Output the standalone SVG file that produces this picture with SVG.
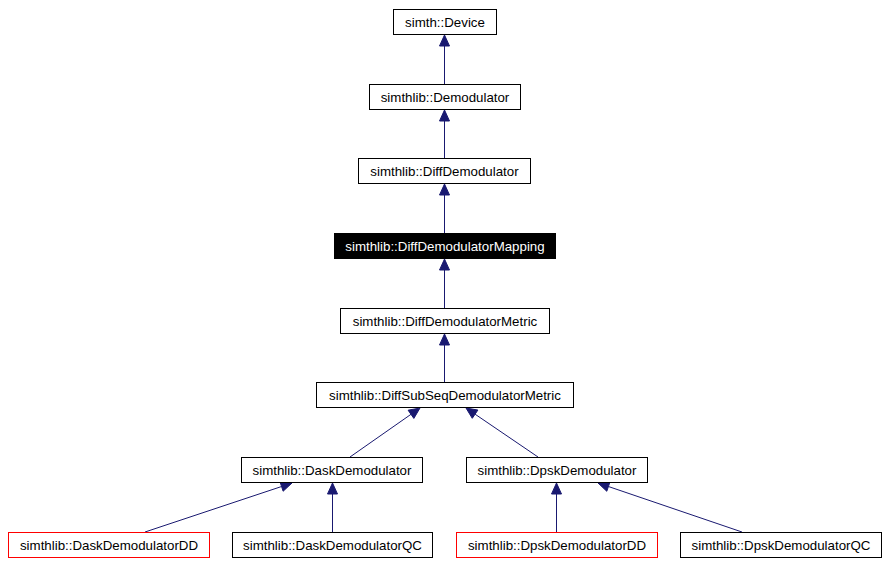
<svg xmlns="http://www.w3.org/2000/svg" width="887" height="564" viewBox="0 0 887 564">
<style>
  .box { fill: #ffffff; stroke: #000000; stroke-width: 1; }
  .red { fill: #ffffff; stroke: #ff0000; stroke-width: 1; }
  .sel { fill: #000000; stroke: #000000; stroke-width: 1; }
  text { font-family: "Liberation Sans", Arial, sans-serif; font-size: 13.3px; text-anchor: middle; fill: #000000; }
  .selt { fill: #ffffff; }
  .edge { stroke: #191970; stroke-width: 1; fill: none; }
  .head { fill: #191970; stroke: #191970; stroke-width: 1; }
</style>
<rect width="887" height="564" fill="#ffffff"/>
<g id="connectors">
  <line class="edge" x1="444.5" y1="84" x2="444.5" y2="46"/>
  <polygon class="head" points="444.5,35 449.5,46 439.5,46"/>
  <line class="edge" x1="444.5" y1="158" x2="444.5" y2="121"/>
  <polygon class="head" points="444.5,110 449.5,121 439.5,121"/>
  <line class="edge" x1="444.5" y1="233" x2="444.5" y2="195"/>
  <polygon class="head" points="444.5,184 449.5,195 439.5,195"/>
  <line class="edge" x1="444.5" y1="308" x2="444.5" y2="270"/>
  <polygon class="head" points="444.5,259 449.5,270 439.5,270"/>
  <line class="edge" x1="444.5" y1="382" x2="444.5" y2="345"/>
  <polygon class="head" points="444.5,334 449.5,345 439.5,345"/>
  <line class="edge" x1="350" y1="457" x2="411" y2="414.3"/>
  <polygon class="head" points="420,408 413.85,418.41 408.11,410.21"/>
  <line class="edge" x1="538" y1="457" x2="475.1" y2="414.2"/>
  <polygon class="head" points="466,408 477.9,410.06 472.28,418.32"/>
  <line class="edge" x1="145" y1="532" x2="281.6" y2="486.5"/>
  <polygon class="head" points="292,483 283.14,491.22 279.98,481.74"/>
  <line class="edge" x1="332.5" y1="532" x2="332.5" y2="494"/>
  <polygon class="head" points="332.5,483 337.5,494 327.5,494"/>
  <line class="edge" x1="556.5" y1="532" x2="556.5" y2="494"/>
  <polygon class="head" points="556.5,483 561.5,494 551.5,494"/>
  <line class="edge" x1="742" y1="532" x2="608.4" y2="486.5"/>
  <polygon class="head" points="598,483 610.02,481.81 606.8,491.27"/>
</g>
<g id="node-device">
  <rect class="box" x="393.5" y="9.5" width="103" height="25"/>
  <text x="445" y="26.5">simth::Device</text>
</g>
<g id="node-demodulator">
  <rect class="box" x="369.5" y="84.5" width="151" height="25"/>
  <text x="445" y="101.5">simthlib::Demodulator</text>
</g>
<g id="node-diffdemodulator">
  <rect class="box" x="358.5" y="158.5" width="172" height="25"/>
  <text x="444.5" y="175.5">simthlib::DiffDemodulator</text>
</g>
<g id="node-diffdemodulatormapping">
  <rect class="sel" x="334.5" y="233.5" width="221" height="25"/>
  <text class="selt" x="445" y="250.5">simthlib::DiffDemodulatorMapping</text>
</g>
<g id="node-diffdemodulatormetric">
  <rect class="box" x="340.5" y="308.5" width="209" height="25"/>
  <text x="445" y="325.5">simthlib::DiffDemodulatorMetric</text>
</g>
<g id="node-diffsubseqdemodulatormetric">
  <rect class="box" x="316.5" y="382.5" width="257" height="25"/>
  <text x="445" y="399.5">simthlib::DiffSubSeqDemodulatorMetric</text>
</g>
<g id="node-daskdemodulator">
  <rect class="box" x="241.5" y="457.5" width="181" height="25"/>
  <text x="332" y="474.5">simthlib::DaskDemodulator</text>
</g>
<g id="node-dpskdemodulator">
  <rect class="box" x="466.5" y="457.5" width="181" height="25"/>
  <text x="557" y="474.5">simthlib::DpskDemodulator</text>
</g>
<g id="node-daskdemodulatordd">
  <rect class="red" x="8.5" y="532.5" width="201" height="25"/>
  <text x="109" y="549.5">simthlib::DaskDemodulatorDD</text>
</g>
<g id="node-daskdemodulatorqc">
  <rect class="box" x="232.5" y="532.5" width="200" height="25"/>
  <text x="332.5" y="549.5">simthlib::DaskDemodulatorQC</text>
</g>
<g id="node-dpskdemodulatordd">
  <rect class="red" x="456.5" y="532.5" width="201" height="25"/>
  <text x="557" y="549.5">simthlib::DpskDemodulatorDD</text>
</g>
<g id="node-dpskdemodulatorqc">
  <rect class="box" x="680.5" y="532.5" width="201" height="25"/>
  <text x="781" y="549.5">simthlib::DpskDemodulatorQC</text>
</g>
</svg>
